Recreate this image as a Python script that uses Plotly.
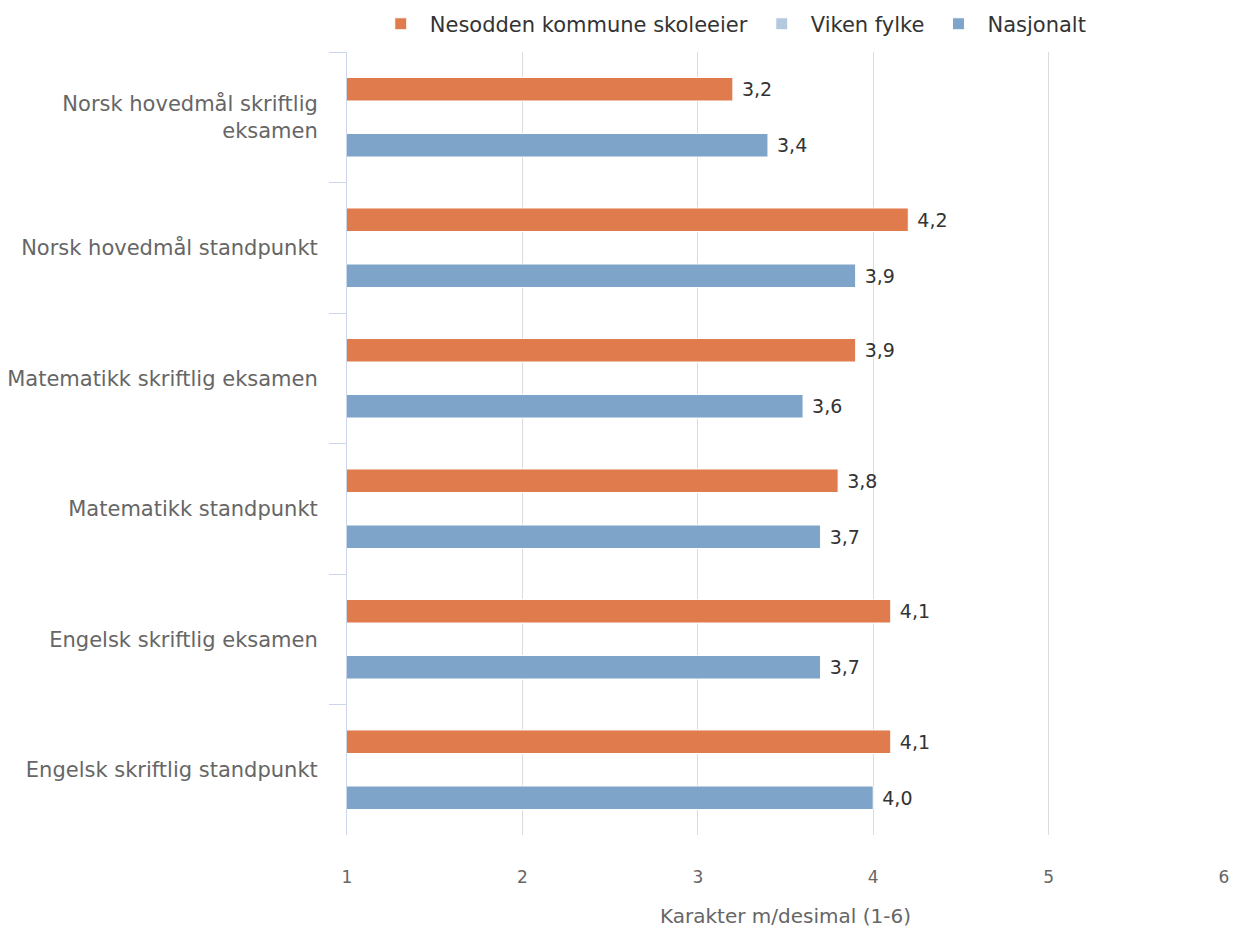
import plotly.graph_objects as go

categories = [
    "Norsk hovedmål skriftlig<br>eksamen",
    "Norsk hovedmål standpunkt",
    "Matematikk skriftlig eksamen",
    "Matematikk standpunkt",
    "Engelsk skriftlig eksamen",
    "Engelsk skriftlig standpunkt",
]
nesodden = [3.2, 4.2, 3.9, 3.8, 4.1, 4.1]
viken = [None, None, None, None, None, None]
nasjonalt = [3.4, 3.9, 3.6, 3.7, 3.7, 4.0]

series_names = ["Nesodden kommune skoleeier", "Viken fylke", "Nasjonalt"]
series_colors = ["#e07b4e", "#b3c9de", "#7ea4c9"]

FONT = "DejaVu Sans"
fig = go.Figure()
for name, vals, col in zip(series_names, [nesodden, viken, nasjonalt], series_colors):
    fig.add_trace(go.Bar(
        y=categories, x=vals, name=name, orientation="h",
        marker=dict(color=col, line=dict(color="white", width=1)),
        texttemplate=" %{x:.1f}", textposition="outside",
        textfont=dict(family=FONT, size=19, color="#333333"),
        cliponaxis=False,
    ))

fig.update_layout(
    width=1234, height=928,
    barmode="group", bargap=0.356, bargroupgap=0.16,
    separators=", ",
    plot_bgcolor="white", paper_bgcolor="white",
    margin=dict(l=347, r=10, t=52, b=93, autoexpand=False),
    font=dict(family=FONT, size=17, color="#666666"),
    legend=dict(orientation="h", x=0.593, xanchor="center", xref="container",
                y=0.974, yanchor="middle", yref="container",
                font=dict(family=FONT, size=21, color="#333333"),
                traceorder="normal", itemwidth=48),
    showlegend=True,
    xaxis=dict(range=[1, 6], tickvals=[1, 2, 3, 4, 5, 6], showgrid=True,
               gridcolor="#dcdcdc", gridwidth=1, zeroline=False, showline=False,
               automargin=False, ticklabelstandoff=30,
               tickfont=dict(family=FONT, size=17, color="#666666"),
               ticks="", title=dict(text="Karakter m/desimal (1-6)", standoff=22,
                                    font=dict(family=FONT, size=20, color="#666666"))),
    yaxis=dict(autorange="reversed", tickson="boundaries", ticks="outside",
               ticklen=17, tickcolor="#ccd6eb", showline=True, linecolor="#ccd6eb",
               linewidth=1, showgrid=False, automargin=False, ticklabelstandoff=24,
               tickfont=dict(family=FONT, size=21, color="#666666")),
)
fig.write_html(
    "out.html",
    config={"displayModeBar": False},
    post_script="document.body.style.margin='0';document.body.style.overflow='hidden';",
)
